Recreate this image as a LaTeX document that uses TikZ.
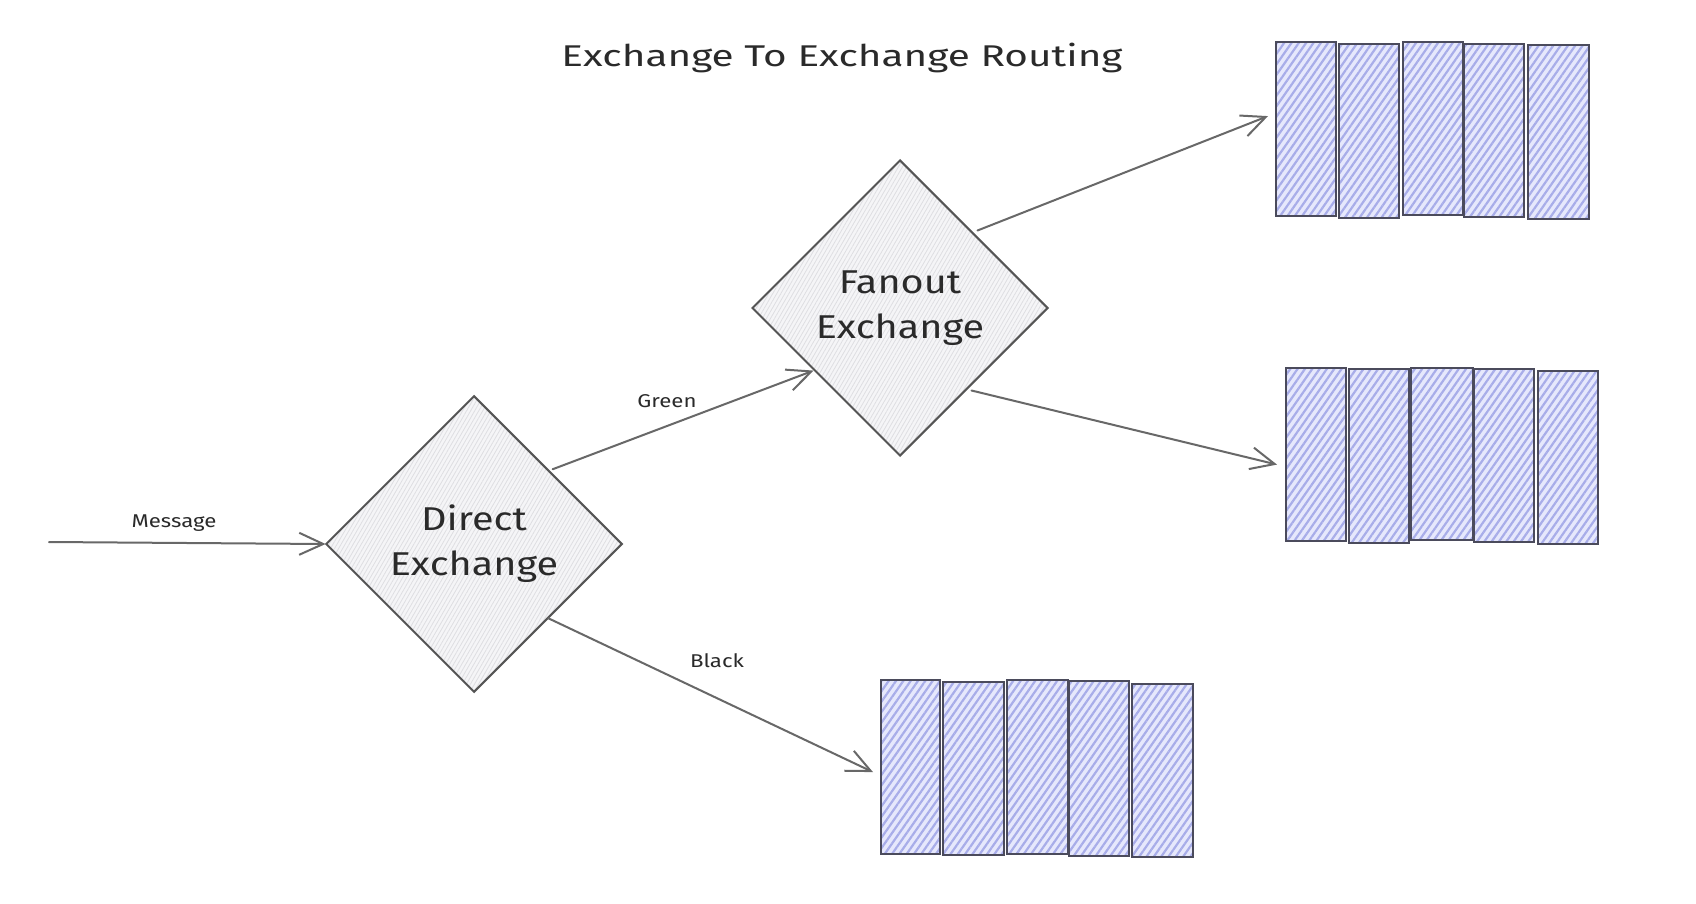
\documentclass[tikz,border=0pt]{standalone}
\usepackage{fontspec}
\setmainfont{Fira Sans}
\newfontfamily\hand[FakeStretch=1.2]{Fira Sans}
\newfontfamily\handwide[FakeStretch=1.35]{Fira Sans}
\usetikzlibrary{shapes.geometric,arrows.meta,patterns.meta,calc}
\definecolor{ink}{HTML}{2A2A2A}
\definecolor{dstroke}{HTML}{555555}
\definecolor{dfill}{HTML}{F5F5F7}
\definecolor{dhatch}{HTML}{DEDEE2}
\definecolor{qstroke}{HTML}{4B4B5C}
\definecolor{qfill}{HTML}{E6E8FC}
\definecolor{qhatch}{HTML}{A8ADE9}
\definecolor{arrc}{HTML}{686868}
\tikzset{
  exch/.style={diamond, draw=dstroke, line width=2pt, minimum width=296pt, minimum height=296pt, aspect=1, inner sep=0pt,
    preaction={fill=dfill}, pattern={Lines[angle=60,distance=3.5pt,line width=0.8pt]}, pattern color=dhatch,
    font=\hand\fontsize{33}{45}\selectfont, text=ink, align=center},
  qbox/.style={rectangle, draw=qstroke, line width=2.2pt, anchor=north west, inner sep=0pt,
    preaction={fill=qfill}, pattern={Lines[angle=55,distance=6pt,line width=2.2pt]}, pattern color=qhatch},
  arr/.style={draw=arrc, line width=2pt, line cap=round, -{Straight Barb[length=24pt,width=22pt,line width=2pt]}},
  elabel/.style={font=\hand\fontsize{18.5}{22}\selectfont, text=ink, anchor=base},
}
\newcommand{\qb}[5]{\node[qbox, minimum width=#4pt, minimum height=#5pt] (#1) at (#2,#3) {};}
\begin{document}
\begin{tikzpicture}[x=1pt,y=-1pt]
\fill[white] (0,0) rectangle (1696,904);
\useasboundingbox (0,0) rectangle (1696,904);

\node[font=\handwide\fontsize{30}{34}\selectfont, text=ink, anchor=base] (title) at (842,67) {Exchange To Exchange Routing};

\node[exch] (direct) at (474,544) {Direct\\Exchange};
\node[exch] (fanout) at (900,308) {Fanout\\Exchange};

% top queue
\qb{q1a}{1275}{41}{60}{174}
\qb{q1b}{1338}{43}{60}{174}
\qb{q1c}{1402}{41}{60}{173}
\qb{q1d}{1463}{43}{60}{173}
\qb{q1e}{1527}{44}{61}{174}
% middle queue
\qb{q2a}{1285}{367}{60}{173}
\qb{q2b}{1348}{368}{60}{174}
\qb{q2c}{1410}{367}{62}{172}
\qb{q2d}{1473}{368}{60}{173}
\qb{q2e}{1537}{370}{60}{173}
% bottom queue
\qb{q3a}{880}{679}{59}{174}
\qb{q3b}{942}{681}{61}{173}
\qb{q3c}{1006}{679}{61}{174}
\qb{q3d}{1068}{680}{60}{175}
\qb{q3e}{1131}{683}{61}{173}

\coordinate (msgstart) at (49,542);
\draw[arr] (msgstart) -- (direct.west);
\node[elabel] (lmsg) at (174,527) {Message};

\draw[arr] ($(direct.north)!0.53!(direct.east)+(0,-5)$) -- ($(fanout.west)!0.42!(fanout.south)$);
\node[elabel] (lgreen) at (667,407) {Green};

\draw[arr] ($(direct.east)!0.5!(direct.south)$) -- ($(q3a.west)+(-7,5)$);
\node[elabel] (lblack) at (717,667) {Black};

\draw[arr] ($(fanout.north)!0.5!(fanout.east)+(3,-3)$) -- ($(q1a.west)+(-7,-13)$);
\draw[arr] ($(fanout.east)!0.5!(fanout.south)+(-3,8)$) -- ($(q2a.west)+(-8,10)$);
\end{tikzpicture}
\end{document}
